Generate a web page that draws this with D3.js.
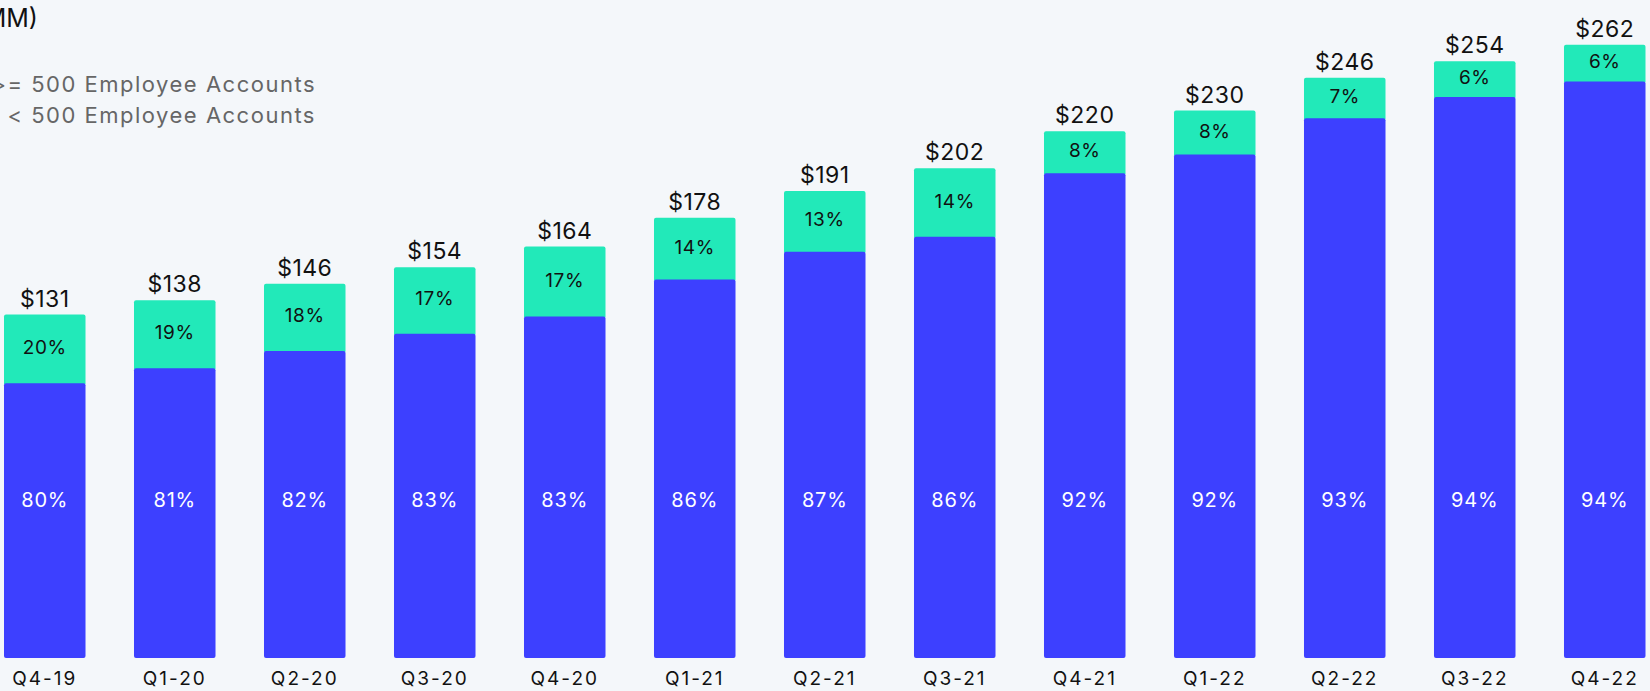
<!DOCTYPE html>
<html>
<head>
<meta charset="utf-8">
<script src="https://cdn.jsdelivr.net/npm/d3@7"></script>
<style>
  html, body { margin: 0; padding: 0; background: #f4f7fa; }
  svg { display: block; }
  text { font-family: Inter, "Open Sans", sans-serif; }
</style>
</head>
<body>
<svg id="chart" width="1650" height="691"></svg>
<script>
// ---- data ----
const categories = ["Q4-19","Q1-20","Q2-20","Q3-20","Q4-20","Q1-21","Q2-21","Q3-21","Q4-21","Q1-22","Q2-22","Q3-22","Q4-22"];
const totals = [131,138,146,154,164,178,191,202,220,230,246,254,262];
const largeShare = [80,81,82,83,83,86,87,86,92,92,93,94,94];   // >= 500 Employee Accounts
const smallShare = [20,19,18,17,17,14,13,14,8,8,7,6,6];        // < 500 Employee Accounts
const legendLabels = [">= 500 Employee Accounts", "< 500 Employee Accounts"];
const titleText = "($MM)";

// ---- layout ----
const W = 1650, H = 691;
const baseY = 658;
const blue = "#3d40ff", green = "#22e9b9";

const svg = d3.select("#chart");
svg.append("rect").attr("width", W).attr("height", H).attr("fill", "#f4f7fa");

const x = d3.scaleBand().domain(categories).range([4, 1645.5]).paddingInner(0.373).paddingOuter(0);
const y = d3.scaleLinear().domain([-35.7, 262]).range([baseY, 44.7]);

const rows = categories.map((c, i) => ({ cat: c, total: totals[i], large: largeShare[i], small: smallShare[i] }));

const g = svg.append("g");
const bars = g.selectAll("g.bar").data(rows).join("g").attr("class", "bar");

// share-of-bar scale: 0..100% of the bar's pixel height
function splitY(d) {
  const top = y(d.total);
  const s = d3.scaleLinear().domain([0, 100]).range([baseY, top]);
  return s(d.large / (d.large + d.small) * 100);
}

bars.append("rect")
  .attr("x", d => x(d.cat)).attr("width", x.bandwidth())
  .attr("y", d => y(d.total)).attr("height", d => splitY(d) - y(d.total) + 2)
  .attr("rx", 2).attr("fill", green);

bars.append("rect")
  .attr("x", d => x(d.cat)).attr("width", x.bandwidth())
  .attr("y", d => splitY(d)).attr("height", d => baseY - splitY(d))
  .attr("rx", 2).attr("fill", blue);

// totals
bars.append("text")
  .attr("x", d => x(d.cat) + x.bandwidth() / 2)
  .attr("y", d => y(d.total) - 8)
  .attr("text-anchor", "middle").attr("font-size", 23).attr("letter-spacing", 0.5).attr("fill", "#111")
  .text(d => "$" + d.total);

// small share labels (green)
bars.append("text")
  .attr("x", d => x(d.cat) + x.bandwidth() / 2)
  .attr("y", d => (y(d.total) + splitY(d)) / 2 + 5)
  .attr("text-anchor", "middle").attr("font-size", 19).attr("letter-spacing", 0.6).attr("fill", "#111")
  .text(d => d.small + "%");

// large share labels (blue)
bars.append("text")
  .attr("x", d => x(d.cat) + x.bandwidth() / 2)
  .attr("y", 507)
  .attr("text-anchor", "middle").attr("font-size", 20).attr("letter-spacing", 0.8).attr("fill", "#fff")
  .text(d => d.large + "%");

// x axis labels
const xAxis = d3.axisBottom(x).tickSize(0).tickPadding(0);
const ax = svg.append("g").attr("transform", `translate(0, ${baseY})`).call(xAxis);
ax.select(".domain").remove();
ax.selectAll("text").attr("font-size", 19).attr("fill", "#111")
  .attr("font-family", "Inter, 'Open Sans', sans-serif")
  .attr("letter-spacing", 2)
  .attr("dy", 0).attr("y", 27);

// title (cropped at the left edge, as in the reference)
svg.append("text").attr("x", 38).attr("y", 27).attr("text-anchor", "end")
  .attr("font-size", 25).attr("fill", "#111").text(titleText);

// legend (markers cropped off the left edge)
svg.selectAll("text.legend").data(legendLabels).join("text").attr("class", "legend")
  .attr("x", 316).attr("y", (d, i) => 92 + i * 31)
  .attr("text-anchor", "end").attr("font-size", 22).attr("letter-spacing", 1.5).attr("fill", "#666")
  .text(d => d);
</script>
</body>
</html>
